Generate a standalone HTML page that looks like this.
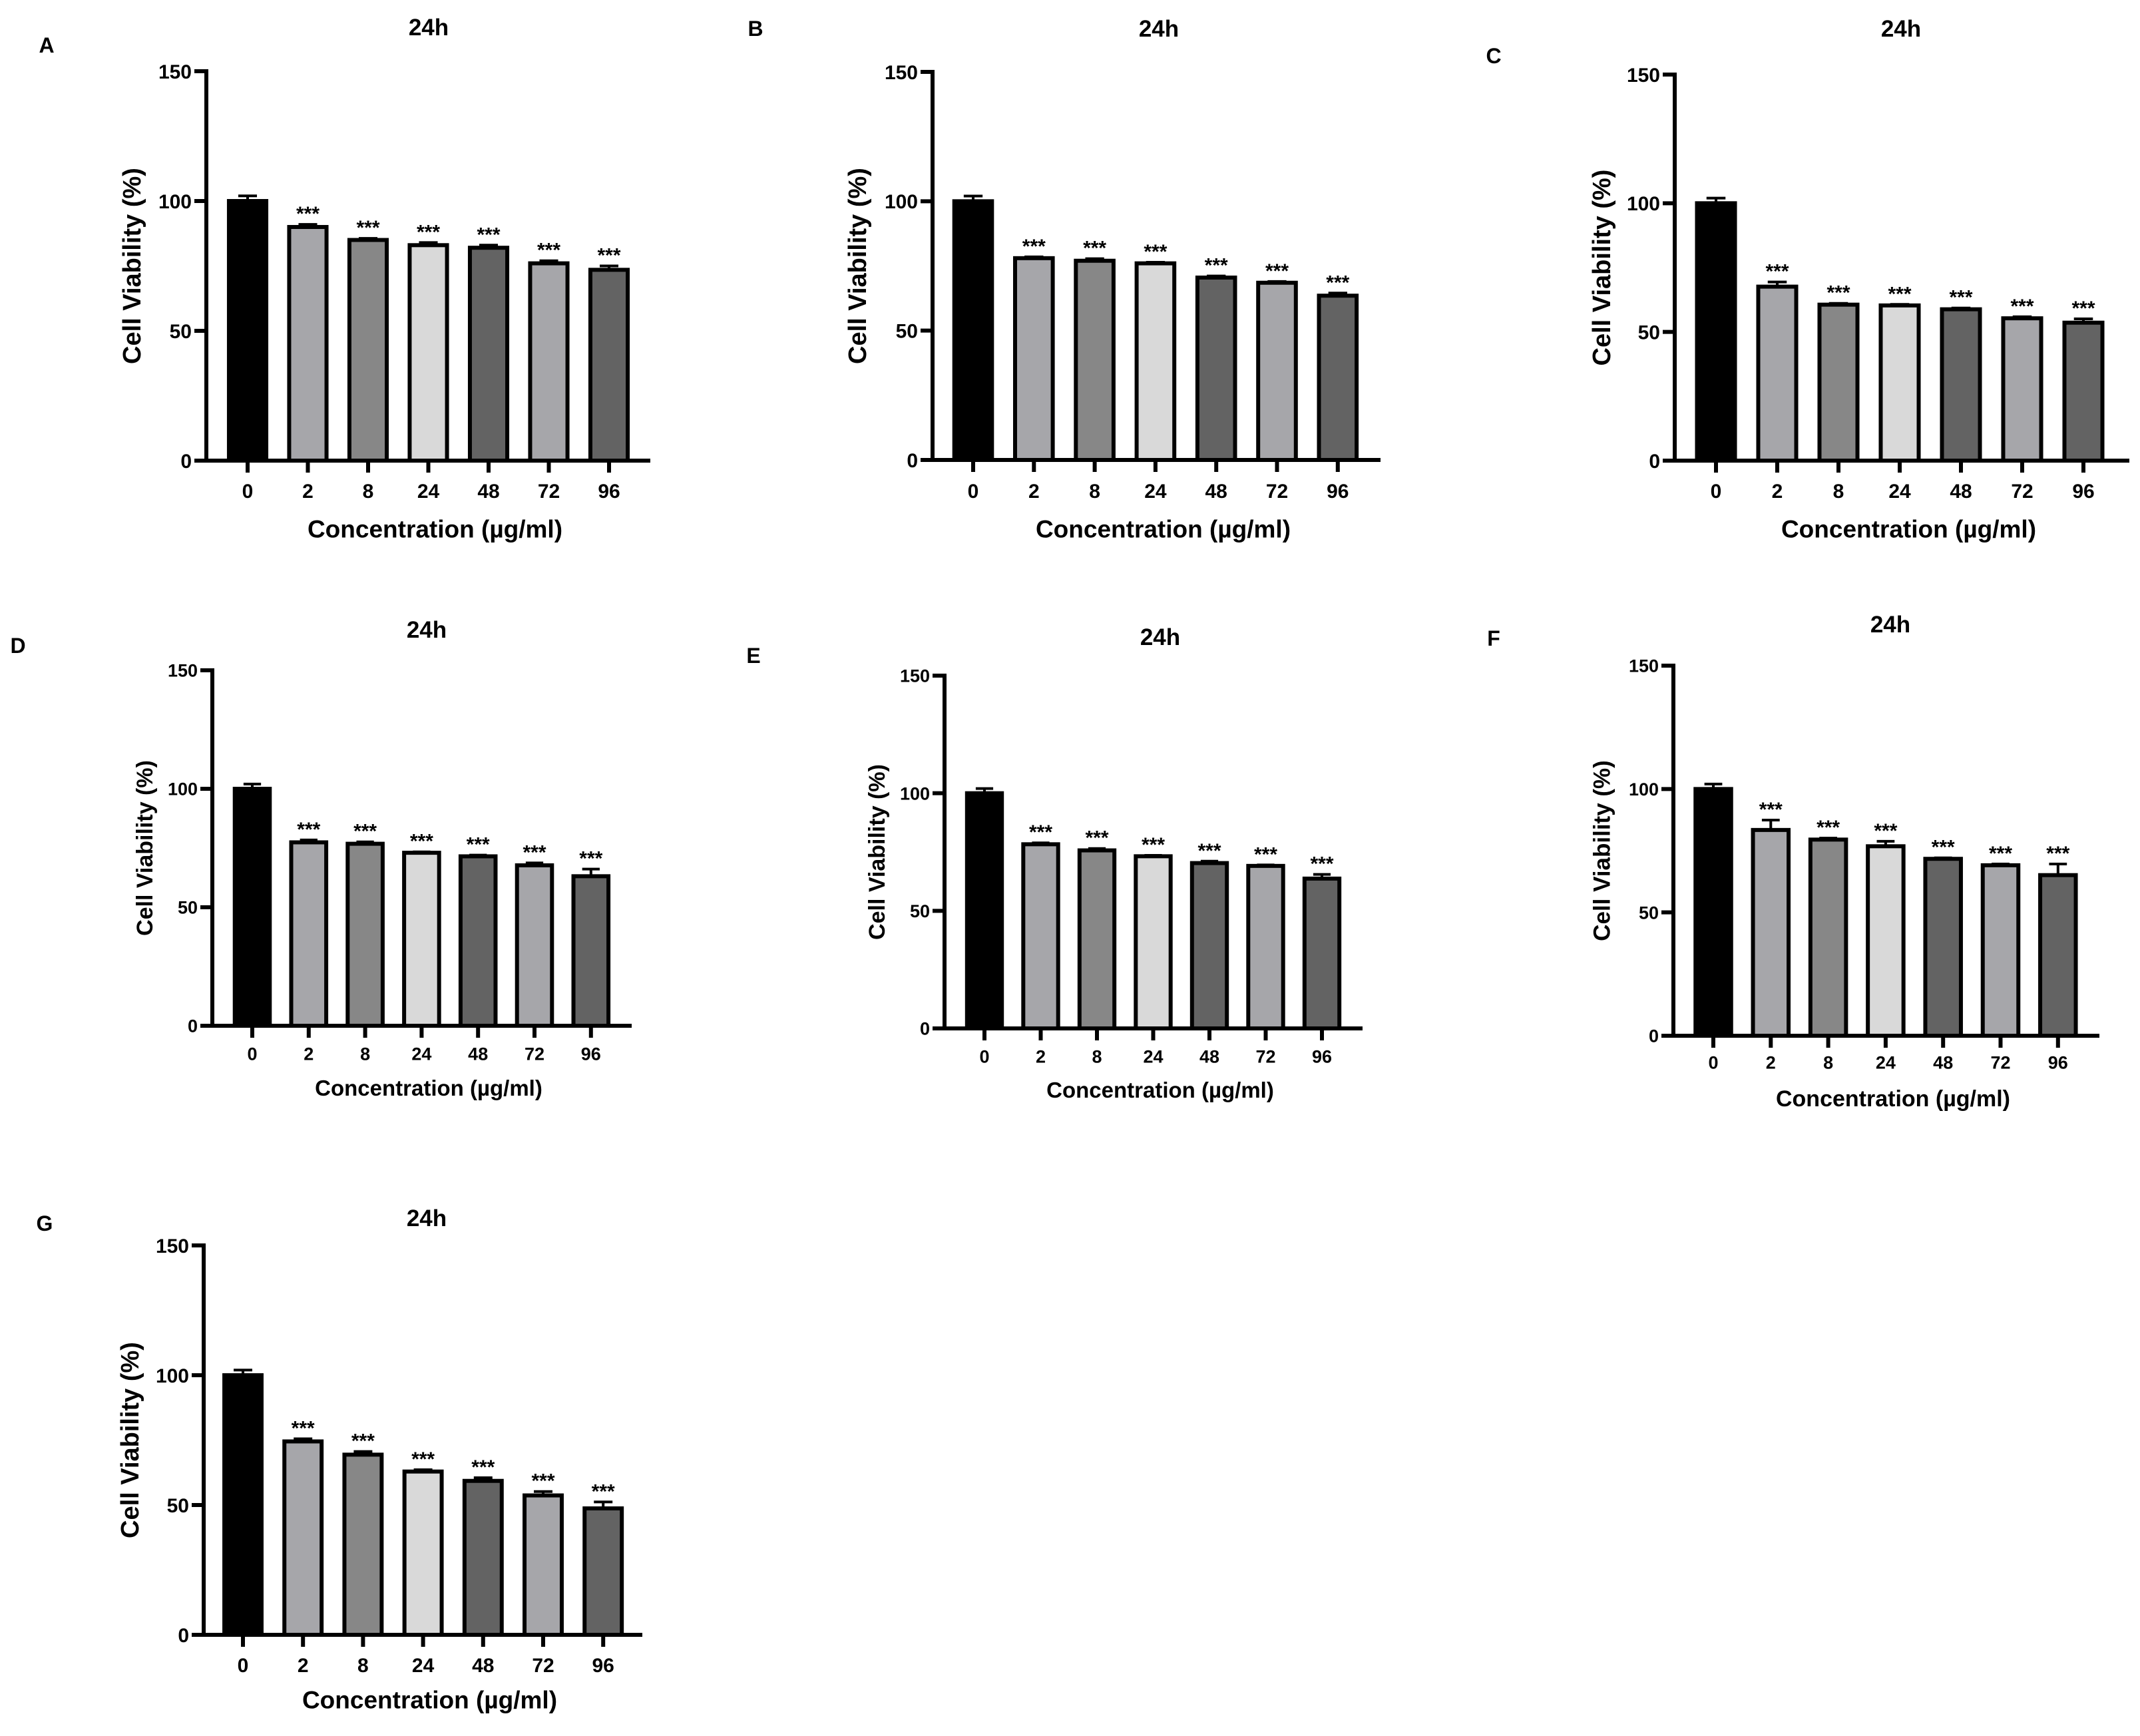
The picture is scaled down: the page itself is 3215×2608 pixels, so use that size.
<!DOCTYPE html>
<html><head><meta charset="utf-8"><style>
html,body{margin:0;padding:0;background:#fff;}
svg{display:block;font-family:"Liberation Sans",Arial,sans-serif;font-weight:bold;}
</style></head><body>
<svg id="fig" width="3215" height="2608" viewBox="0 0 3215 2608" xmlns="http://www.w3.org/2000/svg"></svg>
<script>
const categories = ["0","2","8","24","48","72","96"];
const yTicks = [0,50,100,150];
const panelLetters = ["A","B","C","D","E","F","G"];
const valuesA = [100,90,85,83,82,76,73.5];
const errorsA = [2,1,0.6,1,1,1,1.5];
const valuesB = [100,78,77,76,70.5,68.5,63.5];
const errorsB = [2,0.5,0.8,0.4,0.6,0.5,1];
const valuesC = [100,67.6,60.6,60.3,58.8,55.3,53.6];
const errorsC = [2,1.8,0.5,0.4,0.5,0.6,1.5];
const valuesD = [100,77.4,76.8,73,71.5,67.7,63.1];
const errorsD = [2,1,0.8,0.4,0.5,1,3];
const valuesE = [100,78.3,75.7,73.2,70.3,69.1,63.7];
const errorsE = [2,0.6,0.8,0.4,0.8,0.4,1.8];
const valuesF = [100,83.4,79.5,76.8,71.7,69.1,65.1];
const errorsF = [2,4,0.6,2,0.4,0.5,4.5];
const valuesG = [100,74.5,69.4,62.9,59.3,53.7,48.7];
const errorsG = [2,1,1.2,0.7,1.2,1.5,2.5];
const fills = ["#000000","#a6a6aa","#878787","#d9d9d9","#636363","#a6a6aa","#636363"];

const panels = [
 {vals:valuesA,errs:errorsA,ax:310,y0:692,y150:107,xend:977,c0:372,step:90.5,title:[644,41],letter:[70,68],tickY:737,xtY:794,yt:199,fs:30,fx:37},
 {vals:valuesB,errs:errorsB,ax:1401,y0:691,y150:108,xend:2074,c0:1462,step:91.3,title:[1741,43],letter:[1135,43],tickY:737,xtY:794,yt:1289,fs:30,fx:37},
 {vals:valuesC,errs:errorsC,ax:2516,y0:692,y150:112,xend:3199,c0:2578,step:92,title:[2856,43],letter:[2244,84],tickY:737,xtY:794,yt:2407,fs:30,fx:37},
 {vals:valuesD,errs:errorsD,ax:319,y0:1541,y150:1007,xend:949,c0:379,step:84.8,title:[641,946],letter:[27,970],tickY:1583,xtY:1634,yt:218,fs:27,fx:33},
 {vals:valuesE,errs:errorsE,ax:1419,y0:1545,y150:1015,xend:2047,c0:1479,step:84.5,title:[1743,957],letter:[1132,985],tickY:1587,xtY:1637,yt:1318,fs:27,fx:33},
 {vals:valuesF,errs:errorsF,ax:2514,y0:1556,y150:1000,xend:3154,c0:2574,step:86.3,title:[2840,938],letter:[2244,959],tickY:1596,xtY:1650,yt:2407,fs:27,fx:34},
 {vals:valuesG,errs:errorsG,ax:306,y0:2456,y150:1871,xend:965,c0:365,step:90.2,title:[641,1830],letter:[67,1838],tickY:2501,xtY:2553,yt:196,fs:30,fx:37}
];
const NS="http://www.w3.org/2000/svg";
const svg=document.getElementById('fig');
function mk(tag,attrs,parent){const e=document.createElementNS(NS,tag);for(const k in attrs)e.setAttribute(k,attrs[k]);parent.appendChild(e);return e;}

panels.forEach((p,pi)=>{
  const g=mk('g',{},svg);
  
  
  const yS=v=>p.y0-(v/150)*(p.y0-p.y150);
  const xS=i=>p.c0+i*p.step;
  const bw=p.step*0.62;
  // letter
  const lt=mk('text',{x:p.letter[0],y:p.letter[1]+11,'font-size':32,'text-anchor':'middle'},g);
  lt.textContent=panelLetters[pi];
  
  
  const tt=mk('text',{x:p.title[0],y:p.title[1]+12,'font-size':35,'text-anchor':'middle'},g);
  tt.textContent='24h';
  
  
  // bars
  p.vals.forEach((v,i)=>{
    const cx=xS(i), top=yS(v);
    const r=mk('rect',{x:cx-bw/2,y:top,width:bw,height:p.y0-top,fill:fills[i],stroke:'#000','stroke-width':6},g);
    
    
    const et=yS(v+p.errs[i]);
    const eb=mk('path',{d:`M${cx} ${top} V${et} M${cx-bw/4} ${et} H${cx+bw/4}`,stroke:'#000','stroke-width':4,fill:'none'},g);
    
    
    if(i>0){
      const st=mk('text',{x:cx,y:et-6,'font-size':30,'text-anchor':'middle'},g);
      st.textContent='***';
      
      
    }
    const tk=mk('line',{x1:cx,x2:cx,y1:p.y0,y2:p.y0+18,stroke:'#000','stroke-width':6},g);
    
    
    const tl=mk('text',{x:cx,y:p.tickY+p.fs*0.36,'font-size':p.fs,'text-anchor':'middle'},g);
    tl.textContent=categories[i];
    
    
  });
  // axes
  const ya=mk('line',{x1:p.ax,x2:p.ax,y1:p.y150-3,y2:p.y0+3,stroke:'#000','stroke-width':6},g);
  
  
  const xa=mk('line',{x1:p.ax-18,x2:p.xend,y1:p.y0,y2:p.y0,stroke:'#000','stroke-width':6},g);
  
  
  yTicks.forEach(t=>{
    const y=yS(t);
    const l=mk('line',{x1:p.ax-18,x2:p.ax,y1:y,y2:y,stroke:'#000','stroke-width':6},g);
    
    
    const tx=mk('text',{x:p.ax-22,y:y+p.fs*0.36,'font-size':p.fs,'text-anchor':'end'},g);
    tx.textContent=t;
    
    
  });
  const xt=mk('text',{x:(p.ax+p.xend)/2+10,y:p.xtY+p.fx*0.36,'font-size':p.fx,'text-anchor':'middle'},g);
  xt.textContent='Concentration (µg/ml)';
  
  
  const yc=(p.y0+p.y150)/2;
  const yt=mk('text',{x:p.yt,y:yc,'font-size':p.fx+1,'text-anchor':'middle',transform:`rotate(-90 ${p.yt} ${yc})`,'dominant-baseline':'central'},g);
  yt.textContent='Cell Viability (%)';
  
  
});
</script>
</body></html>
